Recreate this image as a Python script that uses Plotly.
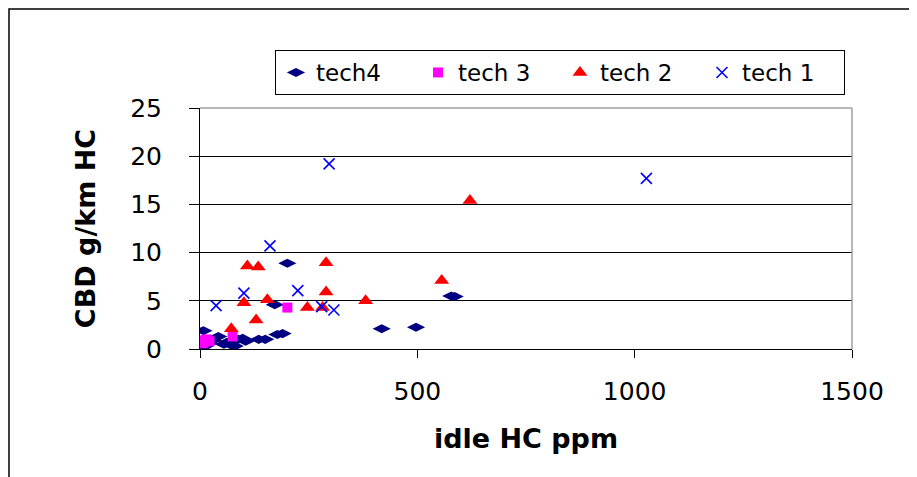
import plotly.graph_objects as go

# idle HC ppm vs CBD g/km HC
tech4_x = [3, 8, 12, 20, 30, 42, 55, 62, 72, 80, 88, 98, 105, 135, 150, 172, 178, 190, 201, 418, 497, 578, 586]
tech4_y = [0.1, 1.9, 0.3, 0.6, 0.9, 1.3, 0.5, 0.7, 0.4, 0.3, 1.0, 1.1, 0.8, 1.0, 1.0, 4.6, 1.5, 1.6, 8.9, 2.1, 2.25, 5.5, 5.45]

tech3_x = [2, 8, 15, 22, 75, 201]
tech3_y = [0.9, 0.6, 1.0, 0.8, 1.3, 4.3]

tech2_x = [72, 101, 109, 129, 134, 155, 247, 282, 290, 290, 381, 556, 621]
tech2_y = [2.1, 4.8, 8.6, 3.0, 8.5, 5.1, 4.3, 4.3, 8.95, 5.9, 5.0, 7.1, 15.4]

tech1_x = [37, 101, 161, 225, 280, 297, 308, 1027]
tech1_y = [4.5, 5.8, 10.7, 6.05, 4.4, 19.2, 4.05, 17.7]

x_ticks = [0, 500, 1000, 1500]
y_ticks = [0, 5, 10, 15, 20, 25]

FONT = "DejaVu Sans, Arial, sans-serif"

fig = go.Figure()
fig.add_trace(go.Scatter(x=tech4_x, y=tech4_y, mode="markers", name="tech4",
                         marker=dict(symbol="diamond-wide", size=13, color="#000080")))
fig.add_trace(go.Scatter(x=tech3_x, y=tech3_y, mode="markers", name="tech 3",
                         marker=dict(symbol="square", size=10, color="#FF00FF")))
fig.add_trace(go.Scatter(x=tech2_x, y=tech2_y, mode="markers", name="tech 2",
                         marker=dict(symbol="triangle-up", size=13, color="#FF0000")))
fig.add_trace(go.Scatter(x=tech1_x, y=tech1_y, mode="markers", name="tech 1",
                         marker=dict(symbol="x-thin-open", size=11, color="#0000FF",
                                     line=dict(width=1.6, color="#0000FF"))))

# the page body adds 8px on the left/top, so margins are shifted to compensate
fig.update_layout(
    width=917, height=477,
    margin=dict(l=192, r=73, t=100, b=136),
    plot_bgcolor="white", paper_bgcolor="white",
    font=dict(family=FONT, color="black", size=24),
    legend=dict(orientation="h", x=0.115, y=1.2407, xanchor="left", yanchor="top",
                bordercolor="black", borderwidth=1, bgcolor="white",
                font=dict(size=23), entrywidth=97, itemwidth=30),
)

fig.update_xaxes(range=[0, 1500], tickvals=x_ticks, showgrid=False, zeroline=False,
                 showline=True, linecolor="black", linewidth=1,
                 ticks="outside", ticklen=8, tickcolor="black",
                 ticklabelstandoff=12, tickfont=dict(size=25),
                 title=dict(text="<b>idle HC ppm</b>", font=dict(size=27), standoff=24))
fig.update_yaxes(range=[0, 25], tickvals=y_ticks, showgrid=True, gridcolor="black", gridwidth=1,
                 zeroline=False, showline=True, linecolor="black", linewidth=1,
                 ticks="outside", ticklen=10, tickcolor="black",
                 ticklabelstandoff=22, tickfont=dict(size=25),
                 title=dict(text="<b>CBD g/km HC</b>", font=dict(size=27), standoff=26))

# gray top/right border of plot area and outer chart frame
fig.add_shape(type="line", xref="paper", yref="paper", x0=0, x1=1, y0=1, y1=1,
              line=dict(color="#A0A0A0", width=1.5))
fig.add_shape(type="line", xref="paper", yref="paper", x0=1, x1=1, y0=0, y1=1,
              line=dict(color="#A0A0A0", width=1.5))
fig.add_shape(type="rect", xref="paper", yref="paper",
              x0=(1 - 192) / 652, x1=(940 - 192) / 652, y0=(341 - 490) / 241, y1=(341 - 1) / 241,
              line=dict(color="black", width=1.5))

fig.write_html("out.html")
